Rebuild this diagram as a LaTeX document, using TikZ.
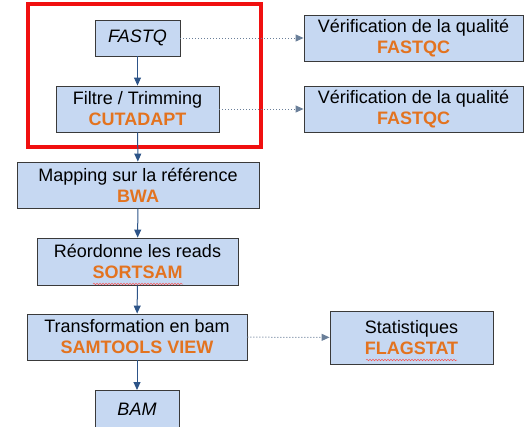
\documentclass[tikz,border=0pt]{standalone}
\usepackage{fontspec}
\setmainfont{Liberation Sans}
\usetikzlibrary{arrows.meta,decorations.pathmorphing}
\definecolor{boxfill}{HTML}{C6D8F2}
\definecolor{boxline}{HTML}{3A3A3A}
\definecolor{tool}{HTML}{E3731F}
\definecolor{flow}{HTML}{2D5488}
\definecolor{dots}{HTML}{6A7F99}
\definecolor{frame}{HTML}{F01010}
\tikzset{
  stepbox/.style={draw=boxline, line width=0.9pt, fill=boxfill, align=center,
    inner sep=0pt, font=\fontsize{18}{21}\selectfont},
  flowarrow/.style={draw=flow, line width=1pt, -{Triangle[length=8pt,width=7pt]}},
  qcarrow/.style={draw=dots, line width=1pt, dash pattern=on 1pt off 2pt,
    -{Triangle[length=8pt,width=7pt]}},
  spell/.style={draw=frame!70, line width=0.5pt, decorate,
    decoration={snake, amplitude=0.8pt, segment length=3pt}}
}
\newcommand{\tool}[1]{{\color{tool}\bfseries #1}}
\begin{document}
\begin{tikzpicture}[x=1pt,y=-1pt]
\useasboundingbox (0,0) rectangle (525,426);
\clip (0,0) rectangle (525,426);

% main pipeline
\node[stepbox, minimum width=85, minimum height=36] (fastq) at (137.5,38) {\itshape FASTQ};
\node[stepbox, minimum width=163, minimum height=46] (trim) at (137.5,109) {Filtre / Trimming\\\tool{CUTADAPT}};
\node[stepbox, minimum width=242, minimum height=46] (map) at (138,185) {Mapping sur la référence\\\tool{BWA}};
\node[stepbox, minimum width=201, minimum height=47] (sort) at (137.5,261.5) {Réordonne les reads\\\tool{SORTSAM}};
\node[stepbox, minimum width=220, minimum height=46] (view) at (137,337) {Transformation en bam\\\tool{SAMTOOLS VIEW}};
\node[stepbox, minimum width=84, minimum height=38, anchor=north] (bam) at (137,390) {\itshape BAM};

% side checks
\node[stepbox, minimum width=219, minimum height=46] (qc1) at (413.5,38) {Vérification de la qualité\\\tool{FASTQC}};
\node[stepbox, minimum width=219, minimum height=46] (qc2) at (413.5,109) {Vérification de la qualité\\\tool{FASTQC}};
\node[stepbox, minimum width=163, minimum height=53] (stat) at (411.5,337.5) {Statistiques\\\tool{FLAGSTAT}};

% spell-check underlines
\draw[spell] (93,284) -- (183,284);
\draw[spell] (366,360) -- (457,360);

% pre-processing frame
\draw[frame, line width=3.5pt] (28,4) rectangle (261,147);

% connectors
\draw[flowarrow] (fastq) -- (trim);
\draw[flowarrow] (trim) -- (map);
\draw[flowarrow] (map) -- (sort);
\draw[flowarrow] (sort) -- (view);
\draw[flowarrow] (view.south) -- (bam.north);
\draw[qcarrow] (fastq) -- (qc1);
\draw[qcarrow] (trim) -- (qc2);
\draw[qcarrow] (view) -- (stat);
\end{tikzpicture}
\end{document}
